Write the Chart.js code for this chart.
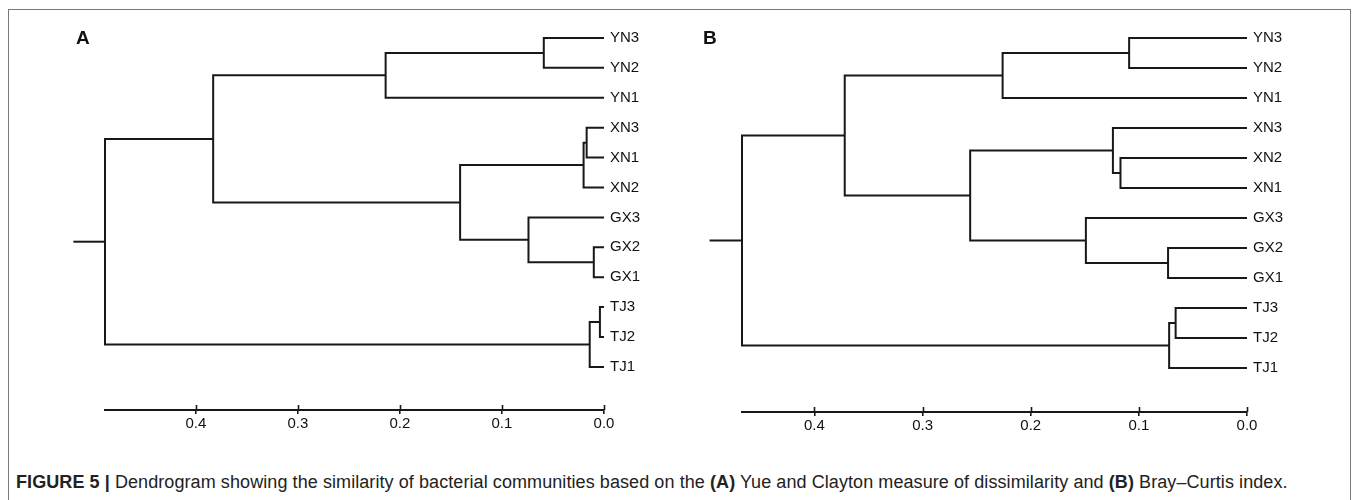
<!DOCTYPE html>
<html>
<head>
<meta charset="utf-8">
<title>Figure 5 - Dendrograms</title>
<script src="https://cdn.jsdelivr.net/npm/chart.js@4.4.0/dist/chart.umd.min.js"></script>
<style>
	html, body { margin: 0; padding: 0; background: #fff; overflow: hidden; }
	#frame { position: absolute; left: 8px; top: 9px; width: 1341px; height: 520px; border: 1px solid #7a7a7a; }
	.panel { position: absolute; top: 0; }
	.plabel { position: absolute; top: 27px; font: bold 19px "Liberation Sans", Arial, sans-serif; color: #111; }
	#caption { position: absolute; left: 16px; top: 472px; font: 18px "Liberation Sans", Arial, sans-serif; letter-spacing: 0.08px; color: #222; white-space: nowrap; }
</style>
</head>
<body>
<div id="frame"></div>
<canvas id="chartA" class="panel" width="680" height="450" style="left:0px"></canvas>
<canvas id="chartB" class="panel" width="678" height="450" style="left:680px"></canvas>
<div class="plabel" style="left:76px">A</div>
<div class="plabel" style="left:703px">B</div>
<div id="caption"><b>FIGURE 5 |</b> Dendrogram showing the similarity of bacterial communities based on the <b>(A)</b> Yue and Clayton measure of dissimilarity and <b>(B)</b> Bray&ndash;Curtis index.</div>

<script>
"use strict";

// leaves in the order they are drawn, top to bottom
var leavesA = ['YN3', 'YN2', 'YN1', 'XN3', 'XN1', 'XN2', 'GX3', 'GX2', 'GX1', 'TJ3', 'TJ2', 'TJ1'];
var leavesB = ['YN3', 'YN2', 'YN1', 'XN3', 'XN2', 'XN1', 'GX3', 'GX2', 'GX1', 'TJ3', 'TJ2', 'TJ1'];

// hclust style merges: -n = leaf n (1-based, display order), +n = merge n
var mergesA = [[-1, -2], [1, -3], [-4, -5], [3, -6], [-8, -9], [-7, 5], [4, 6], [2, 7], [-10, -11], [9, -12], [8, 10]];
var heightsA = [0.059, 0.214, 0.017, 0.020, 0.010, 0.074, 0.141, 0.383, 0.004, 0.014, 0.489];
var rootEdgeA = 0.520;

var mergesB = [[-1, -2], [1, -3], [-5, -6], [-4, 3], [-8, -9], [-7, 5], [4, 6], [2, 7], [-10, -11], [9, -12], [8, 10]];
var heightsB = [0.109, 0.226, 0.117, 0.124, 0.073, 0.149, 0.256, 0.372, 0.066, 0.072, 0.467];
var rootEdgeB = 0.497;

var axisTicks = [0.0, 0.1, 0.2, 0.3, 0.4];

var lineColor = '#181818';
var textColor = '#111';
var fontFamily = '"Liberation Sans", Arial, sans-serif';

function buildSegments(merges, heights, rootEdge) {
	var nodeX = [], nodeY = [], segs = [];
	function pos(ref) {
		if (ref < 0) return { x: 0, y: -ref - 1 };
		return { x: nodeX[ref - 1], y: nodeY[ref - 1] };
	}
	merges.forEach(function (m, i) {
		var a = pos(m[0]), b = pos(m[1]), h = heights[i];
		nodeX[i] = h;
		nodeY[i] = (a.y + b.y) / 2;
		segs.push([{ x: a.x, y: a.y }, { x: h, y: a.y }, { x: h, y: b.y }, { x: b.x, y: b.y }]);
	});
	var last = merges.length - 1;
	segs.push([{ x: nodeX[last], y: nodeY[last] }, { x: rootEdge, y: nodeY[last] }]);
	return segs;
}

// small tick part above the axis line, like axisPhylo
var upTicks = {
	id: 'upTicks',
	afterDraw: function (chart) {
		var sx = chart.scales.x, ctx = chart.ctx, yb = chart.chartArea.bottom;
		ctx.save();
		ctx.strokeStyle = lineColor;
		ctx.lineWidth = 1.6;
		sx.ticks.forEach(function (t) {
			var px = Math.round(sx.getPixelForValue(t.value)) + 0.5;
			ctx.beginPath();
			ctx.moveTo(px, yb - 5);
			ctx.lineTo(px, yb);
			ctx.stroke();
		});
		ctx.restore();
	}
};

function makeDendro(id, leaves, merges, heights, rootEdge, yMax, pad) {
	var segs = buildSegments(merges, heights, rootEdge);
	return new Chart(id, {
		type: 'scatter',
		data: {
			datasets: segs.map(function (s) {
				return {
					data: s,
					showLine: true,
					borderColor: lineColor,
					borderWidth: 2,
					pointRadius: 0,
					tension: 0,
					clip: false
				};
			})
		},
		options: {
			responsive: false,
			animation: false,
			events: [],
			layout: { padding: pad },
			plugins: {
				legend: { display: false },
				tooltip: { enabled: false }
			},
			scales: {
				x: {
					type: 'linear',
					reverse: true,
					min: 0,
					max: heights[heights.length - 1],
					border: { color: lineColor, width: 2 },
					grid: { drawOnChartArea: false, tickLength: 4, color: lineColor, lineWidth: 1.6 },
					afterBuildTicks: function (scale) {
						scale.ticks = axisTicks.map(function (v) { return { value: v }; });
					},
					ticks: {
						autoSkip: false,
						maxRotation: 0,
						padding: 1,
						color: textColor,
						font: { family: fontFamily, size: 15 },
						callback: function (v) { return Number(v).toFixed(1); }
					},
					afterFit: function (scale) { scale.height = 30; }
				},
				y: {
					type: 'linear',
					position: 'right',
					reverse: true,
					min: -0.5,
					max: yMax,
					border: { display: false },
					grid: { display: false, drawTicks: false },
					afterBuildTicks: function (scale) {
						scale.ticks = leaves.map(function (l, i) { return { value: i }; });
					},
					ticks: {
						autoSkip: false,
						padding: 6,
						color: textColor,
						font: { family: fontFamily, size: 15 },
						callback: function (v) { return leaves[v]; }
					},
					afterFit: function (scale) { scale.width = 50; }
				}
			}
		},
		plugins: [upTicks]
	});
}

makeDendro('chartA', leavesA, mergesA, heightsA, rootEdgeA, 12.44, { left: 105, right: 26, top: 23, bottom: 10 });
makeDendro('chartB', leavesB, mergesB, heightsB, rootEdgeB, 12.47, { left: 62, right: 61, top: 23, bottom: 8 });
</script>
</body>
</html>
